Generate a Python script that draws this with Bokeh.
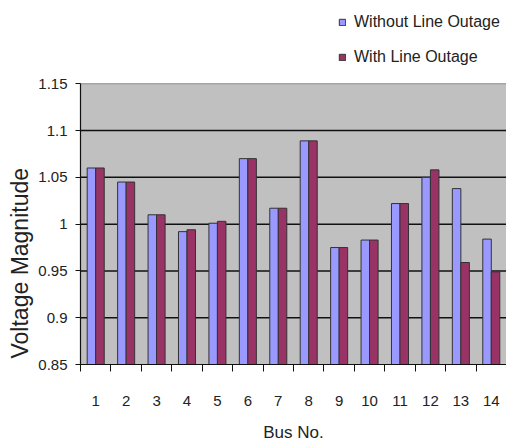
from bokeh.plotting import figure
from bokeh.models import ColumnDataSource, FixedTicker, Legend, LegendItem, Title
from bokeh.embed import file_html
from bokeh.resources import INLINE

buses = list(range(1, 15))
bus_labels = [str(b) for b in buses]
without_outage = [1.06, 1.045, 1.01, 0.992, 1.001, 1.07, 1.017, 1.089, 0.975, 0.983, 1.022, 1.05, 1.038, 0.984]
with_outage = [1.06, 1.045, 1.01, 0.994, 1.003, 1.07, 1.017, 1.089, 0.975, 0.983, 1.022, 1.058, 0.959, 0.949]
y_ticks = [0.85, 0.9, 0.95, 1.0, 1.05, 1.1, 1.15]
y_tick_labels = ["0.85", "0.9", "0.95", "1", "1.05", "1.1", "1.15"]
series_names = ["Without Line Outage", "With Line Outage"]

FONT = "Liberation Sans"
TXT = "#222222"
Y0, Y1 = y_ticks[0], y_ticks[-1]
X0, X1 = 0.5, len(buses) + 0.5

p = figure(width=506, height=444, output_backend="svg", toolbar_location=None,
           x_range=(X0, X1), y_range=(Y0, 1.239),
           min_border_left=80, min_border_right=0, min_border_top=0, min_border_bottom=20)
p.background_fill_color = "white"
p.border_fill_color = "white"
p.outline_line_color = None
p.xgrid.grid_line_color = None
p.ygrid.grid_line_color = None

# grey plotting area with its grey top border
p.quad(left=X0, right=X1, bottom=Y0, top=Y1, fill_color="#c0c0c0",
       line_color="#8a8a8a", line_width=1)
# horizontal gridlines
inner = y_ticks[1:-1]
p.segment(x0=[X0] * len(inner), x1=[X1] * len(inner), y0=inner, y1=inner,
          line_color="#111111", line_width=1.5)

src = ColumnDataSource(dict(
    x1=[b - 0.14 for b in buses], x2=[b + 0.14 for b in buses],
    a=without_outage, b=with_outage))
r1 = p.vbar(x="x1", top="a", bottom=Y0, width=0.28, source=src,
            fill_color="#9999ff", line_color="#333333", line_width=1)
r2 = p.vbar(x="x2", top="b", bottom=Y0, width=0.28, source=src,
            fill_color="#993366", line_color="#333333", line_width=1)

p.xaxis.ticker = FixedTicker(ticks=buses, minor_ticks=[b - 0.5 for b in buses] + [X1])
p.xaxis.major_label_overrides = {b: s for b, s in zip(buses, bus_labels)}
p.xaxis.major_tick_out = 6
p.xaxis.minor_tick_out = 7
p.xaxis.minor_tick_in = 0
p.xaxis.minor_tick_line_color = "#111111"
p.xaxis.major_label_standoff = 24
p.xaxis.axis_label = "Bus No."
p.xaxis.axis_label_standoff = 14

p.yaxis.ticker = FixedTicker(ticks=y_ticks)
p.yaxis.bounds = (Y0, Y1)
p.yaxis.major_label_overrides = {t: s for t, s in zip(y_ticks, y_tick_labels)}
p.yaxis.major_tick_out = 5
p.yaxis.major_tick_in = 0
p.yaxis.minor_tick_line_color = None
p.yaxis.major_label_standoff = 8

for ax in (p.xaxis, p.yaxis):
    ax.axis_line_color = "#111111"
    ax.axis_line_width = 1.2
    ax.major_label_text_font = FONT
    ax.major_label_text_font_size = "15px"
    ax.major_label_text_color = TXT
    ax.axis_label_text_font = FONT
    ax.axis_label_text_font_size = "17px"
    ax.axis_label_text_font_style = "normal"
    ax.axis_label_text_color = TXT
p.xaxis.major_tick_line_color = None
p.yaxis.major_tick_line_color = "#111111"

ytitle = Title(text="Voltage Magnitude", align="left", offset=6, standoff=6,
               text_font=FONT, text_font_size="23px", text_font_style="normal",
               text_color=TXT)
p.add_layout(ytitle, "left")

legend = Legend(items=[LegendItem(label=series_names[0], renderers=[r1]),
                       LegendItem(label=series_names[1], renderers=[r2])],
                location=(258, 298), orientation="vertical")
legend.background_fill_alpha = 0
legend.border_line_color = None
legend.padding = 0
legend.margin = 0
legend.spacing = 17
legend.glyph_width = 8
legend.glyph_height = 8
legend.label_standoff = 8
legend.label_text_font = FONT
legend.label_text_font_size = "16px"
legend.label_text_color = TXT
p.add_layout(legend, "center")

open("out.html", "w").write(file_html(p, INLINE))
